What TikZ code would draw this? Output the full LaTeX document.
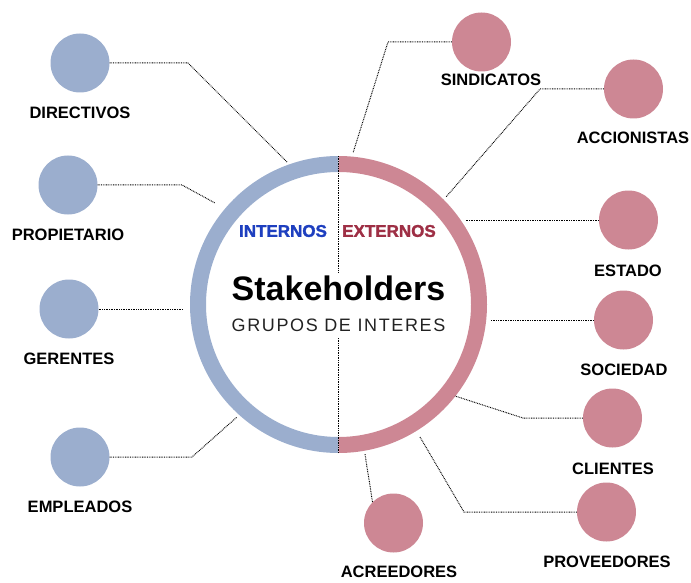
\documentclass[tikz,border=0pt]{standalone}
\usepackage{fontspec}
\setmainfont{Liberation Sans}
\newfontfamily\grufont[LetterSpace=9]{Liberation Sans}
\newfontfamily\heavyfont[FakeBold=1.6]{Liberation Sans Bold}
\definecolor{inblue}{HTML}{9BAECE}
\definecolor{expink}{HTML}{CD8794}
\definecolor{intxt}{HTML}{1E3FBF}
\definecolor{extxt}{HTML}{9E2F45}
\definecolor{subgray}{HTML}{222222}
\tikzset{
  bc/.style={circle,fill=inblue,minimum size=59pt,inner sep=0pt},
  pc/.style={circle,fill=expink,minimum size=59pt,inner sep=0pt},
  lab/.style={font=\fontsize{16.5}{18}\selectfont\bfseries,text=black,inner sep=0pt},
  conn/.style={draw=black,line width=1pt,dash pattern=on 0.8pt off 0.9pt},
  sidetxt/.style={font=\fontsize{17}{19}\selectfont\heavyfont,inner sep=0pt},
}
\begin{document}
\begin{tikzpicture}[x=1pt,y=-1pt]
\useasboundingbox (0,0) rectangle (691,583);
% ring (y axis points down: angle 90 is the bottom)
\coordinate (c) at (338.5,304.5);
\draw[inblue,line width=16pt] (338.5,445) arc[start angle=90,end angle=270,radius=140.5];
\draw[expink,line width=16pt] (338.5,445) arc[start angle=90,end angle=-90,radius=140.5];
% center texts
\node[sidetxt,text=intxt] (int) at (283,231) {INTERNOS};
\node[sidetxt,text=extxt] (ext) at (389,231) {EXTERNOS};
\node[font=\fontsize{34}{36}\selectfont\bfseries,inner sep=0pt] (stk) at (338.5,288) {Stakeholders};
\node[font=\fontsize{18}{20}\selectfont\grufont,text=subgray,inner sep=0pt] (gru) at (338.5,325.5) {GRUPOS DE INTERES};
% center dotted split
\coordinate (vt) at (338,156);
\coordinate (vm1) at (338,273);
\coordinate (vm2) at (338,338);
\coordinate (vb) at (338,453);
\draw[conn] (vt) -- (vm1);
\draw[conn] (vm2) -- (vb);
% left nodes
\node[bc] (dir) at (80,63) {};
\node[lab] (dirl) at (80,113) {DIRECTIVOS};
\node[bc] (pro) at (68,185) {};
\node[lab] (prol) at (68,235) {PROPIETARIO};
\node[bc] (ger) at (69,309) {};
\node[lab] (gerl) at (69,359) {GERENTES};
\node[bc] (emp) at (80,457) {};
\node[lab] (empl) at (80,507) {EMPLEADOS};
% right nodes
\node[pc] (sin) at (481.5,42) {};
\node[lab] (sinl) at (491,80) {SINDICATOS};
\node[pc] (acc) at (633.5,89) {};
\node[lab] (accl) at (633,138) {ACCIONISTAS};
\node[pc] (est) at (628.5,220) {};
\node[lab] (estl) at (628,271) {ESTADO};
\node[pc] (soc) at (623.5,320) {};
\node[lab] (socl) at (624,370) {SOCIEDAD};
\node[pc] (cli) at (612.5,418) {};
\node[lab] (clil) at (613,469) {CLIENTES};
\node[pc] (prv) at (606.5,512) {};
\node[lab] (prvl) at (607,562) {PROVEEDORES};
\node[pc] (acr) at (393.5,523) {};
\node[lab] (acrl) at (399,572) {ACREEDORES};
% ring end points
\coordinate (rdir) at (287,162);
\coordinate (rpro) at (215,203);
\coordinate (rger) at (183,309);
\coordinate (remp) at (237,417);
\coordinate (rsin) at (353,153);
\coordinate (racc) at (446,197);
\coordinate (rest) at (466,220);
\coordinate (rsoc) at (491,320);
\coordinate (rcli) at (455,396);
\coordinate (rprv) at (420,437);
\coordinate (racr) at (365,454);
% connectors
\draw[conn] (dir.east) -- (188,63) -- (rdir);
\draw[conn] (pro.east) -- (182,185) -- (rpro);
\draw[conn] (ger.east) -- (rger);
\draw[conn] (emp.east) -- (192,457) -- (remp);
\draw[conn] (sin.west) -- (388,42) -- (rsin);
\draw[conn] (acc.west) -- (540,89) -- (racc);
\draw[conn] (est.west) -- (rest);
\draw[conn] (soc.west) -- (rsoc);
\draw[conn] (cli.west) -- (523,418) -- (rcli);
\draw[conn] (prv.west) -- (464,512) -- (rprv);
\draw[conn] (acr.north west) -- (racr);
\end{tikzpicture}
\end{document}
